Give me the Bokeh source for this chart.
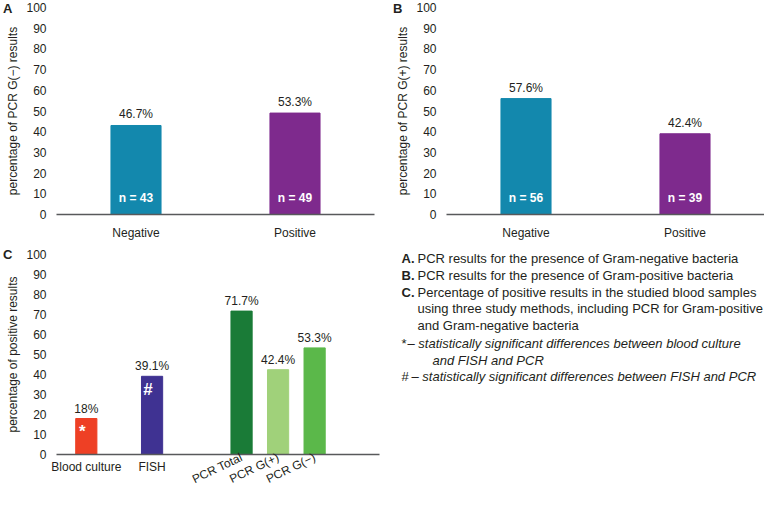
import json
from bokeh.plotting import figure
from bokeh.models import (ColumnDataSource, FactorRange, Range1d, FixedTicker, LabelSet, Label,
                          LinearAxis, CustomJSTickFormatter)
from bokeh.layouts import column, row
from bokeh.core.properties import value
from bokeh.embed import file_html
from bokeh.resources import INLINE

FONT = "Liberation Sans"
INK = "#231F20"
AXIS = "#58595B"

# ---------------- data ----------------
ab_categories = ["Negative", "Positive"]
ab_colors = ["#1388AD", "#7E2A8D"]

a_counts = [43, 49]
a_pct_labels = ["46.7%", "53.3%"]

b_counts = [56, 39]
b_pct_labels = ["57.6%", "42.4%"]

c_categories = ["Blood culture", "FISH", "PCR Total", "PCR G(+)", "PCR G(\u2212)"]
c_values = [18, 39.1, 71.7, 42.4, 53.3]
c_pct_labels = ["18%", "39.1%", "71.7%", "42.4%", "53.3%"]
c_marks = ["*", "#", "", "", ""]
c_colors = ["#EE4025", "#3F3292", "#1A7B37", "#A0D17A", "#5BB84A"]

y_ticks = [0, 10, 20, 30, 40, 50, 60, 70, 80, 90, 100]

y_label_a = "percentage of PCR G(\u2212) results"
y_label_b = "percentage of PCR G(+) results"
y_label_c = "percentage of positive results"

legend_items = [
    ("A.", "PCR results for the presence of Gram-negative bacteria"),
    ("B.", "PCR results for the presence of Gram-positive bacteria"),
    ("C.", "Percentage of positive results in the studied blood samples"),
]
legend_cont = ["using three study methods, including PCR for Gram-positive",
               "and Gram-negative bacteria"]
note_star = ("*", "\u2013 statistically significant differences between blood culture", "and FISH and PCR")
note_hash = ("#", "\u2013 statistically significant differences between FISH and PCR")

# ---------------- layout constants ----------------
c_slots = [1.0, 2.8, 5.25, 6.25, 7.25]   # uneven grouping of panel C
C_XR = (0.184, 9.026)


def style_axes(p, ylabel):
    p.yaxis.ticker = FixedTicker(ticks=y_ticks)
    p.yaxis.axis_label = ylabel
    for ax in p.axis:
        ax.major_tick_line_color = None
        ax.minor_tick_line_color = None
        ax.major_label_text_font = FONT
        ax.major_label_text_font_size = "12px"
        ax.major_label_text_color = INK
        ax.axis_label_text_font = FONT
        ax.axis_label_text_font_size = "12px"
        ax.axis_label_text_font_style = "normal"
        ax.axis_label_text_color = INK
    p.yaxis.axis_line_color = None
    p.yaxis.major_label_standoff = 4
    p.yaxis.axis_label_standoff = 3
    p.xaxis.axis_line_color = AXIS
    p.xaxis.axis_line_width = 1.6
    p.xaxis.major_label_standoff = 5
    p.xgrid.visible = False
    p.ygrid.visible = False
    p.outline_line_color = None


def add_letter(p, letter):
    ax = LinearAxis(ticker=FixedTicker(ticks=[100]),
                    formatter=CustomJSTickFormatter(code=f"return '{letter}';"),
                    axis_line_color=None, major_tick_line_color=None,
                    minor_tick_line_color=None, major_tick_out=0, major_tick_in=0,
                    major_label_text_font=FONT, major_label_text_font_size="13px",
                    major_label_text_font_style="bold", major_label_text_color=INK,
                    major_label_standoff=-9)
    p.add_layout(ax, "left")


def lookup_formatter(xs, labels):
    code = ("const xs = %s; const ls = %s;"
            "for (let i = 0; i < xs.length; i++) {"
            " if (Math.abs(xs[i] - tick) < 1e-6) return ls[i]; }"
            "return '';") % (json.dumps(xs), json.dumps(labels))
    return CustomJSTickFormatter(code=code)


def bar_panel(counts, pct_labels, ylabel, letter, width, height, mbl, mbr):
    src = ColumnDataSource(dict(cat=ab_categories, n=counts, pct=pct_labels,
                                color=ab_colors, nlab=[f"n = {c}" for c in counts]))
    p = figure(x_range=FactorRange(*ab_categories), y_range=Range1d(0, 100),
               width=width, height=height, output_backend="svg", toolbar_location=None,
               min_border_left=mbl, min_border_right=mbr, min_border_top=7, min_border_bottom=31)
    p.vbar(x="cat", top="n", width=0.315, fill_color="color", line_color="color", source=src)
    style_axes(p, ylabel)
    add_letter(p, letter)
    p.add_layout(LabelSet(x="cat", y="n", text="pct", source=src, text_align="center",
                          text_baseline="bottom", y_offset=4, text_font=value(FONT),
                          text_font_size="12px", text_color=INK))
    p.add_layout(LabelSet(x="cat", y=0, text="nlab", source=src, text_align="center",
                          text_baseline="middle", y_offset=17, text_font=value(FONT),
                          text_font_size="12px", text_font_style="bold", text_color="white"))
    return p


pA = bar_panel(a_counts, a_pct_labels, y_label_a, "A", 390, 245, 42, 16)
pB = bar_panel(b_counts, b_pct_labels, y_label_b, "B", 374, 245, 50, 0)

# ---------------- panel C ----------------
CW, CH, CBL, CBR = 390, 250, 43, 11
c_src = ColumnDataSource(dict(x=c_slots, v=c_values, pct=c_pct_labels, mark=c_marks,
                              color=c_colors))
pC = figure(x_range=Range1d(*C_XR), y_range=Range1d(0, 100), width=CW, height=CH,
            output_backend="svg", toolbar_location=None,
            min_border_left=CBL, min_border_right=CBR, min_border_top=9, min_border_bottom=0)
pC.vbar(x="x", top="v", width=0.58, fill_color="color", line_color="color", source=c_src)
style_axes(pC, y_label_c)
# horizontal category labels
pC.xaxis.ticker = FixedTicker(ticks=c_slots[:2])
pC.xaxis.formatter = lookup_formatter(c_slots[:2], c_categories[:2])
pC.xaxis.major_tick_out = 0
pC.xaxis.major_tick_in = 0
# slanted category labels, pulled up beside the horizontal ones
ax_rot = LinearAxis(ticker=FixedTicker(ticks=c_slots[2:]),
                    formatter=lookup_formatter(c_slots[2:], c_categories[2:]),
                    axis_line_color=None, major_tick_line_color=None,
                    minor_tick_line_color=None, major_tick_out=0, major_tick_in=0,
                    major_label_text_font=FONT, major_label_text_font_size="12px",
                    major_label_text_color=INK, major_label_orientation=0.45,
                    major_label_standoff=-20)
pC.add_layout(ax_rot, "below")
add_letter(pC, "C")
pC.add_layout(LabelSet(x="x", y="v", text="pct", source=c_src, text_align="center",
                       text_baseline="bottom", y_offset=3, text_font=value(FONT),
                       text_font_size="12px", text_color=INK))
pC.add_layout(LabelSet(x="x", y="v", text="mark", source=c_src, text_align="center",
                       text_baseline="middle", y_offset=-13, x_offset=-4, text_font=value(FONT),
                       text_font_size="17px", text_font_style="bold", text_color="white"))

# ---------------- legend panel ----------------
LW, LH = 374, CH
pL = figure(width=LW, height=LH, x_range=Range1d(0, LW), y_range=Range1d(LH, 0),
            output_backend="svg", toolbar_location=None, min_border=0,
            min_border_left=0, min_border_right=0, min_border_top=0, min_border_bottom=0,
            x_axis_location=None, y_axis_location=None)
pL.xgrid.visible = False
pL.ygrid.visible = False
pL.outline_line_color = None

LS = "13px"


def ltext(x, y, t, style="normal"):
    pL.add_layout(Label(x=x, y=y, text=t, text_font=FONT, text_font_size=LS,
                        text_font_style=style, text_color=INK, text_align="left",
                        text_baseline="middle"))


row_y = [13, 30, 47]
for (pre, txt), yy in zip(legend_items, row_y):
    ltext(11, yy, pre, "bold")
    ltext(27, yy, txt)
ltext(27, 63, legend_cont[0])
ltext(27, 80, legend_cont[1])
ltext(11, 98, note_star[0])
ltext(17, 98, note_star[1], "italic")
ltext(42, 115, note_star[2], "italic")
ltext(11, 131, note_hash[0])
ltext(21, 131, note_hash[1], "italic")

layout = column(row(pA, pB), row(column(pC), pL))
open("out.html", "w").write(file_html(layout, INLINE))
